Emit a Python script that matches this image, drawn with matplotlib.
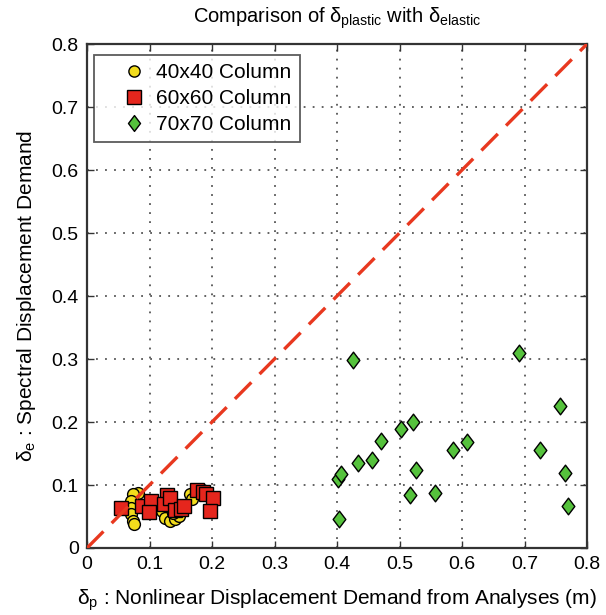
import matplotlib
matplotlib.use("Agg")
import matplotlib.pyplot as plt
from matplotlib.path import Path

plt.rcParams['font.family'] = ['Liberation Sans', 'DejaVu Sans']
plt.rcParams['mathtext.fontset'] = 'custom'
plt.rcParams['mathtext.rm'] = 'Liberation Sans'
plt.rcParams['mathtext.it'] = 'Liberation Sans'

# ---- data ----
col40_x = [0.081, 0.073, 0.071, 0.070, 0.071, 0.073, 0.075,
           0.120, 0.125, 0.133, 0.141, 0.147, 0.137, 0.165, 0.168]
col40_y = [0.087, 0.085, 0.075, 0.064, 0.054, 0.043, 0.038,
           0.059, 0.048, 0.043, 0.046, 0.051, 0.055, 0.085, 0.078]

col60_x = [0.054, 0.088, 0.102, 0.099, 0.128, 0.123, 0.132, 0.140, 0.150,
           0.155, 0.176, 0.186, 0.190, 0.202, 0.197]
col60_y = [0.063, 0.066, 0.075, 0.057, 0.084, 0.070, 0.080, 0.061, 0.062,
           0.067, 0.092, 0.089, 0.085, 0.080, 0.059]

col70_x = [0.403, 0.402, 0.407, 0.426, 0.433, 0.456, 0.471, 0.502, 0.521,
           0.517, 0.526, 0.557, 0.585, 0.608, 0.691, 0.724, 0.757, 0.764, 0.769]
col70_y = [0.046, 0.109, 0.117, 0.298, 0.135, 0.140, 0.170, 0.189, 0.200,
           0.084, 0.124, 0.088, 0.155, 0.168, 0.309, 0.155, 0.225, 0.119, 0.066]

ref_line = [0.0, 0.8]
ticks = [0, 0.1, 0.2, 0.3, 0.4, 0.5, 0.6, 0.7, 0.8]
tick_labels = ['0', '0.1', '0.2', '0.3', '0.4', '0.5', '0.6', '0.7', '0.8']

# ---- figure ----
fig = plt.figure(figsize=(6.06, 6.15), dpi=100)
ax = fig.add_axes([87/606, 1-548/615, 500/606, 504/615])

diamond = Path([(0, 1), (0.76, 0), (0, -1), (-0.76, 0), (0, 1)],
               [Path.MOVETO, Path.LINETO, Path.LINETO, Path.LINETO, Path.CLOSEPOLY])

ax.plot(col40_x, col40_y, linestyle='none', marker='o', markersize=8.5,
        markerfacecolor='#f2dc1c', markeredgecolor='black', markeredgewidth=1.0,
        label='40x40 Column', zorder=3)
ax.plot(col60_x, col60_y, linestyle='none', marker='s', markersize=10.5,
        markerfacecolor='#e5261d', markeredgecolor='black', markeredgewidth=1.0,
        label='60x60 Column', zorder=4)
ax.plot(col70_x, col70_y, linestyle='none', marker=diamond, markersize=12,
        markerfacecolor='#55c23c', markeredgecolor='black', markeredgewidth=1.0,
        label='70x70 Column', zorder=5)
ax.plot(ref_line, ref_line, color='#e8381f', linewidth=2.4,
        dashes=(7, 3.5), zorder=6)

ax.set_xlim(0, 0.8)
ax.set_ylim(0, 0.8)
ax.set_xticks(ticks)
ax.set_xticklabels(tick_labels)
ax.set_yticks(ticks)
ax.set_yticklabels(tick_labels)
ax.tick_params(direction='in', length=5, width=1, top=True, right=True,
               labelsize=14, pad=6, color='#333333')
ax.grid(True, linestyle=(0, (1, 4)), linewidth=1.3, color='#555555')
ax.set_axisbelow(True)
for s in ax.spines.values():
    s.set_linewidth(1.6)
    s.set_color('#333333')

ax.set_title(r'Comparison of $\delta_{\rm plastic}$ with $\delta_{\rm elastic}$',
             fontsize=14.5, pad=15)
ax.set_xlabel(r'$\delta_{\rm p}$ : Nonlinear Displacement Demand from Analyses (m)',
              fontsize=15, labelpad=10)
ax.set_ylabel(r'$\delta_{\rm e}$ : Spectral Displacement Demand', fontsize=15,
              labelpad=10)

leg = ax.legend(loc='upper left', fontsize=15, frameon=True, fancybox=False,
                edgecolor='#333333', borderpad=0.4, labelspacing=0.33,
                handletextpad=-0.4, handlelength=3.0, markerscale=0.95,
                borderaxespad=0, bbox_to_anchor=(7/500, 1-11/504))
leg.get_frame().set_linewidth(1.3)

fig.savefig('out.png', dpi=100)
